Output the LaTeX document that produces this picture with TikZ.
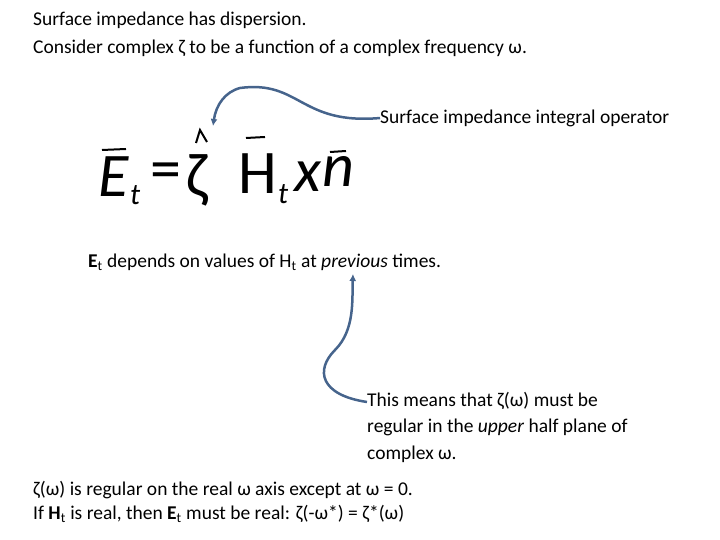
\documentclass[tikz,border=0pt]{standalone}
\usepackage{fontspec}
\setmainfont{Carlito}
\usetikzlibrary{arrows.meta}
\definecolor{pen}{RGB}{70,100,140}
\begin{document}
\begin{tikzpicture}[x=1bp,y=-1bp,
  txt/.style={anchor=west,inner sep=0pt,font=\fontsize{19.5bp}{26.5bp}\selectfont,align=left},
  hw/.style={inner sep=0pt,anchor=base west,font=\fontsize{62bp}{62bp}\selectfont},
  sb/.style={inner sep=0pt,anchor=base west,font=\fontsize{30bp}{30bp}\selectfont},
  bar/.style={line width=2bp},
  arr/.style={draw=pen,line width=2.5bp,-{Latex[length=7bp,width=7bp]}}]
\useasboundingbox (0,0) rectangle (720,540);
\node[txt] (t1) at (33,20) {Surface impedance has dispersion.};
\node[txt] (t2) at (33,48) {Consider complex ζ to be a function of a complex frequency ω.};
\node[txt] (op) at (380,118) {Surface impedance integral operator};
% handwritten equation
\node[hw] (eE) at (98,197) {\textit{E}};
\node[sb] (et) at (130,205) {\textit{t}};
\node[hw] (eq) at (150,190) {=};
\node[hw] (ez) at (186,197) {ζ};
\node[hw] (eH) at (238,194) {H};
\node[sb] (et2) at (278,204) {\textit{t}};
\node[hw] (ex) at (294,192) {\textit{x}};
\node[hw] (en) at (322,187) {\textit{n}};
\draw[bar] (102,150) -- (126,149);
\draw[bar] (246,138) -- (265,137);
\draw[bar] (330,152) -- (346,151);
\draw[bar] (196,143) -- (200,130) -- (207,142);
\node[txt] (e2) at (88,262) {\textbf{E}\textsubscript{t} depends on values of H\textsubscript{t} at \textit{previous} times.};
\node[txt] (mean) at (367,427) {This means that ζ(ω) must be\\regular in the \textit{upper} half plane of\\complex ω.};
\node[txt] (f1) at (33,490) {ζ(ω) is regular on the real ω axis except at ω = 0.};
\node[txt] (f2) at (33,514) {If \textbf{H}\textsubscript{t} is real, then \textbf{E}\textsubscript{t} must be real: ζ(-ω*) = ζ*(ω)};
\coordinate (a1) at (213,126);
\draw[arr] (op.west) .. controls (300,125) and (300,80) .. (240,88) .. controls (225,92) and (216,105) .. (a1);
\coordinate (a2) at (353,274);
\draw[arr] (mean.west |- 0,402) .. controls (320,395) and (315,370) .. (335,350) .. controls (355,330) and (352,300) .. (a2);
\end{tikzpicture}
\end{document}
